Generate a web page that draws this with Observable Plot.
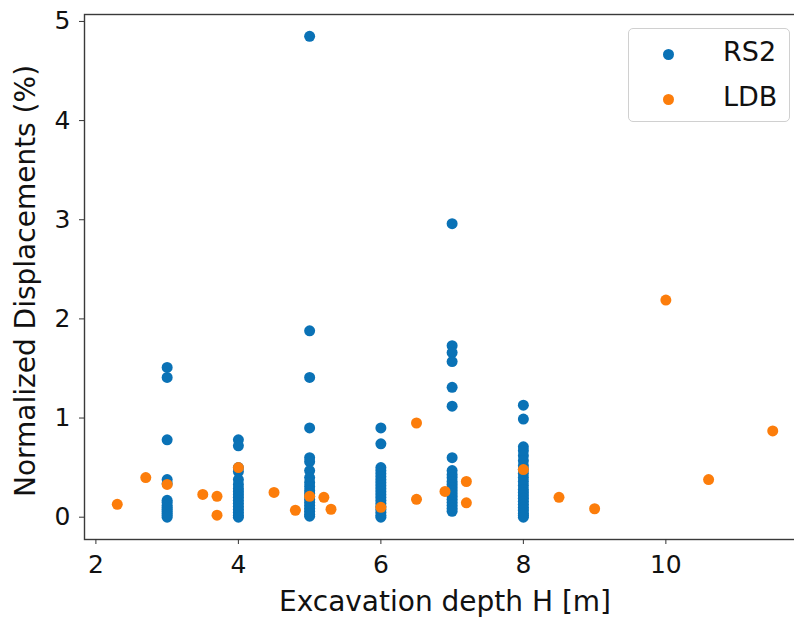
<!DOCTYPE html>
<html>
<head>
<meta charset="utf-8">
<script src="https://cdn.jsdelivr.net/npm/d3@7"></script>
<script src="https://cdn.jsdelivr.net/npm/@observablehq/plot@0.6"></script>
<style>
  html, body { margin: 0; padding: 0; background: #fff; }
  #wrap { position: relative; width: 794px; height: 617px; overflow: hidden; font-family: "DejaVu Sans", sans-serif; }
  #legend { position: absolute; left: 628px; top: 28px; width: 160px; height: 92px; border: 1.3px solid #d0d0d0; border-radius: 5px; background: rgba(255,255,255,0.85); }
  .item { position: absolute; left: 0; height: 30px; width: 160px; }
  .dot { position: absolute; left: 34px; top: 10px; width: 11px; height: 11px; border-radius: 50%; }
  .lab { position: absolute; left: 94px; top: -2px; font-size: 27px; color: #111; line-height: 30px; }
</style>
</head>
<body>
<div id="wrap"></div>
<script>
// ---- data ----
const seriesNames = ["RS2", "LDB"];
const seriesColors = ["#0a72b6", "#fc7d0b"];
const xTicks = [2, 4, 6, 8, 10];
const yTicks = [0, 1, 2, 3, 4, 5];
const xLabel = "Excavation depth H [m]";
const yLabel = "Normalized Displacements (%)";

const rs2Depths = [3, 4, 5, 6, 7, 8];
const rs2At3 = [1.51, 1.41, 0.78, 0.38, 0.34, 0.17, 0.15, 0.12, 0.10, 0.08, 0.06, 0.04, 0.02, 0.0];
const rs2At4 = [0.78, 0.72, 0.50, 0.46, 0.38, 0.33, 0.29, 0.26, 0.23, 0.20, 0.17, 0.14, 0.11, 0.08, 0.05, 0.02, 0.0];
const rs2At5 = [4.85, 1.88, 1.41, 0.90, 0.60, 0.56, 0.47, 0.40, 0.35, 0.31, 0.27, 0.24, 0.21, 0.18, 0.15, 0.12, 0.09, 0.06, 0.03, 0.01];
const rs2At6 = [0.90, 0.74, 0.50, 0.47, 0.44, 0.41, 0.38, 0.35, 0.32, 0.29, 0.26, 0.23, 0.20, 0.17, 0.14, 0.11, 0.08, 0.05, 0.02, 0.0];
const rs2At7 = [2.96, 1.73, 1.66, 1.57, 1.31, 1.12, 0.60, 0.47, 0.43, 0.40, 0.36, 0.33, 0.30, 0.27, 0.24, 0.21, 0.18, 0.15, 0.12, 0.09, 0.06];
const rs2At8 = [1.13, 0.99, 0.71, 0.67, 0.62, 0.57, 0.52, 0.48, 0.44, 0.40, 0.36, 0.32, 0.28, 0.25, 0.22, 0.19, 0.16, 0.13, 0.10, 0.07, 0.04, 0.02, 0.0];
const rs2Values = [rs2At3, rs2At4, rs2At5, rs2At6, rs2At7, rs2At8];

const ldbDepth = [2.3, 2.7, 3.0, 3.5, 3.7, 3.7, 4.0, 4.5, 4.8, 5.0, 5.2, 5.3, 6.0, 6.5, 6.5, 6.9, 7.2, 7.2, 8.0, 8.5, 9.0, 10.0, 10.6, 11.5];
const ldbDisp  = [0.13, 0.40, 0.33, 0.23, 0.21, 0.02, 0.50, 0.25, 0.07, 0.21, 0.20, 0.08, 0.10, 0.95, 0.18, 0.26, 0.36, 0.145, 0.48, 0.20, 0.085, 2.19, 0.38, 0.87];

// ---- build tables ----
const rs2 = rs2Depths.flatMap((d, i) => rs2Values[i].map(v => ({x: d, y: v})));
const ldb = ldbDepth.map((d, i) => ({x: d, y: ldbDisp[i]}));

const chart = Plot.plot({
  width: 794,
  height: 617,
  marginLeft: 84,
  marginRight: -11,
  marginTop: 14,
  marginBottom: 78,
  style: {fontFamily: "DejaVu Sans, sans-serif", background: "white", color: "#111", overflow: "hidden"},
  x: {domain: [1.84, 11.96]},
  y: {domain: [-0.225, 5.07]},
  marks: [
    Plot.dot(rs2, {x: "x", y: "y", r: 5.5, fill: seriesColors[0], stroke: "none"}),
    Plot.dot(ldb, {x: "x", y: "y", r: 5.5, fill: seriesColors[1], stroke: "none"}),
    Plot.frame({stroke: "#3a3a3a", strokeWidth: 1.4}),
    Plot.axisX({ticks: xTicks, tickSize: 5, tickPadding: 11, fontSize: 25, label: null, stroke: "#333", tickFormat: d => String(d)}),
    Plot.axisY({ticks: yTicks, tickSize: 5, tickPadding: 9, fontSize: 25, label: null, stroke: "#333", tickFormat: d => String(d)}),
    Plot.text([xLabel], {frameAnchor: "bottom", dy: 71, fontSize: 28, fill: "#111", textAnchor: "middle", text: d => d}),
    Plot.text([yLabel], {frameAnchor: "left", dx: -58, dy: 4, rotate: -90, fontSize: 28, fill: "#111", textAnchor: "middle", text: d => d})
  ]
});

const wrap = document.getElementById("wrap");
wrap.appendChild(chart);

const legend = document.createElement("div");
legend.id = "legend";
seriesNames.forEach((name, i) => {
  const item = document.createElement("div");
  item.className = "item";
  item.style.top = (10 + i * 45) + "px";
  const dot = document.createElement("div");
  dot.className = "dot";
  dot.style.background = seriesColors[i];
  const lab = document.createElement("div");
  lab.className = "lab";
  lab.textContent = name;
  item.appendChild(dot);
  item.appendChild(lab);
  legend.appendChild(item);
});
wrap.appendChild(legend);
</script>
</body>
</html>
